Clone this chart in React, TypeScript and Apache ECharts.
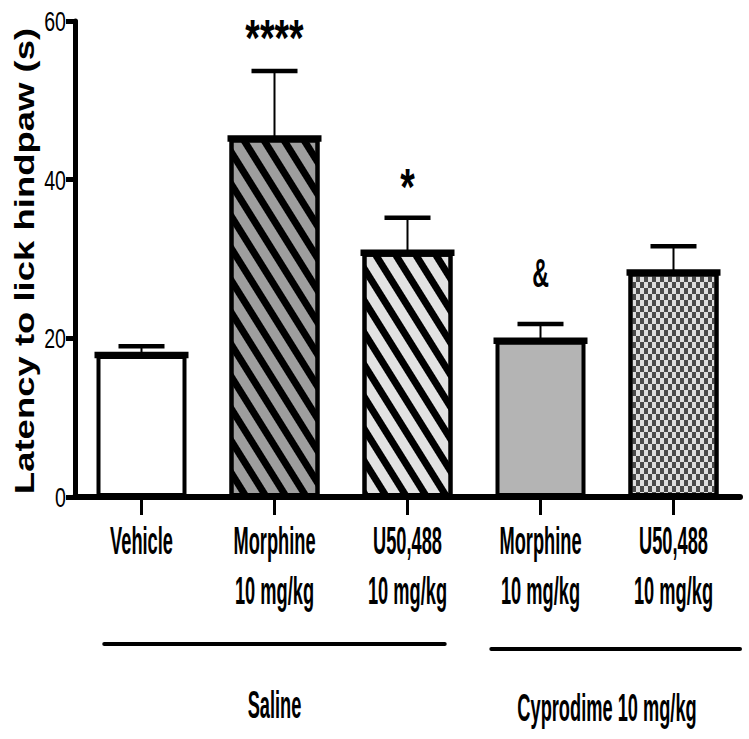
import React, { useEffect, useRef } from "react";
import * as echarts from "echarts";

// ---------- data ----------
const categories = ["Vehicle", "Morphine", "U50,488", "Morphine", "U50,488"];
const doseLabels = ["", "10 mg/kg", "10 mg/kg", "10 mg/kg", "10 mg/kg"];
const means = [17.9, 45.2, 30.8, 19.7, 28.3];
const sems = [1.1, 8.5, 4.4, 2.1, 3.3];
const annotations = ["", "****", "*", "&", ""];
const yTicks = [0, 20, 40, 60];
const groupLabels = ["Saline", "Cyprodime 10 mg/kg"];
const groupFrom = [0, 3];
const groupTo = [2, 4];

// ---------- styles ----------
const FONT = "'Liberation Sans', Arial, Helvetica, sans-serif";
const BAR_WIDTH = 90;
const stripe = (angleDeg: number) => ({
  symbol: "rect",
  symbolSize: 1,
  color: "#000",
  dashArrayX: [1, 0],
  dashArrayY: [7, 10],
  rotation: (angleDeg * Math.PI) / 180,
});
const checker = {
  symbol: "rect",
  symbolSize: 1,
  color: "#4a4a4a",
  dashArrayX: [
    [4, 4],
    [0, 4, 4, 0],
  ],
  dashArrayY: [6, 0],
  rotation: 0,
};
const barStyles: any[] = [
  { color: "#ffffff" },
  { color: "#9e9e9e", decal: stripe(58) },
  { color: "#e2e2e2", decal: stripe(58) },
  { color: "#b4b4b4" },
  { color: "#dedede", decal: checker },
];
const annStyles = [
  { fontSize: 52, scaleX: 0.72, offset: 33 },
  { fontSize: 52, scaleX: 0.72, offset: 33 },
  { fontSize: 52, scaleX: 0.72, offset: 31 },
  { fontSize: 40, scaleX: 0.58, offset: 51 },
  { fontSize: 52, scaleX: 0.72, offset: 33 },
];
const LABEL_SIZE = 38;
const LABEL_SCALE = 0.48;
// group line extents in band fractions relative to first/last category
const groupLineStart = [-0.28, -0.37];
const groupLineEnd = [0.28, 0.5];
const groupLineDy = [147, 152];
const groupLabelDy = [208, 211];

export default function App() {
  const ref = useRef<HTMLDivElement>(null);

  useEffect(() => {
    document.body.style.margin = "0";
    if (!ref.current) return;
    const chart = echarts.init(ref.current, undefined, { renderer: "svg" });

    const option: any = {
      animation: false,
      backgroundColor: "#ffffff",
      grid: { left: 75, right: 9, top: 21, bottom: 242, containLabel: false },
      xAxis: {
        type: "category",
        data: categories,
        boundaryGap: true,
        axisLine: { show: true, lineStyle: { color: "#000", width: 6 } },
        axisTick: {
          show: true,
          alignWithLabel: true,
          length: 18,
          lineStyle: { color: "#000", width: 3 },
        },
        axisLabel: { show: false },
        splitLine: { show: false },
      },
      yAxis: {
        type: "value",
        min: 0,
        max: 60,
        interval: 20,
        axisLine: { show: true, lineStyle: { color: "#000", width: 5 } },
        axisTick: { show: true, length: 9, lineStyle: { color: "#000", width: 5 } },
        axisLabel: { show: false },
        splitLine: { show: false },
      },
      series: [
        {
          type: "bar",
          barWidth: BAR_WIDTH,
          z: 2,
          data: means.map((m, i) => ({
            value: m,
            itemStyle: { ...barStyles[i], borderColor: "#000", borderWidth: 4 },
          })),
        },
        {
          type: "custom",
          z: 5,
          clip: false,
          data: means.map((m, i) => [i, m, sems[i]]),
          renderItem: (params: any, api: any) => {
            const i = api.value(0);
            const m = api.value(1);
            const s = api.value(2);
            const base = api.coord([i, m]);
            const top = api.coord([i, m + s]);
            const half = BAR_WIDTH / 2;
            const children: any[] = [
              {
                type: "line",
                shape: { x1: base[0] - half - 2, y1: base[1], x2: base[0] + half + 2, y2: base[1] },
                style: { stroke: "#000", lineWidth: 6.5 },
              },
              {
                type: "line",
                shape: { x1: base[0], y1: base[1], x2: top[0], y2: top[1] },
                style: { stroke: "#000", lineWidth: 2 },
              },
              {
                type: "line",
                shape: { x1: top[0] - 23, y1: top[1], x2: top[0] + 23, y2: top[1] },
                style: { stroke: "#000", lineWidth: 4.5 },
              },
            ];
            const ann = annotations[params.dataIndex];
            const st = annStyles[params.dataIndex];
            if (ann) {
              children.push({
                type: "text",
                x: top[0],
                y: top[1] - st.offset,
                scaleX: st.scaleX,
                style: {
                  text: ann,
                  fontSize: st.fontSize,
                  fontWeight: "bold",
                  fontFamily: FONT,
                  fill: "#000",
                  align: "center",
                  verticalAlign: "middle",
                },
              });
            }
            return { type: "group", children };
          },
        },
      ],
    };
    chart.setOption(option);

    const catX = (i: number) => chart.convertToPixel({ xAxisIndex: 0 }, i) as number;
    const valY = (v: number) => chart.convertToPixel({ yAxisIndex: 0 }, v) as number;
    const band = catX(1) - catX(0);
    const axisY = valY(0);
    const axisX = catX(0) - band / 2;

    const labelStyle = (text: string) => ({
      text,
      fontSize: LABEL_SIZE,
      fontWeight: "bold",
      fontFamily: FONT,
      fill: "#000",
      align: "center",
      verticalAlign: "middle",
    });

    const graphics: any[] = [];
    categories.forEach((c, i) => {
      graphics.push({ type: "text", x: catX(i), y: axisY + 44, scaleX: LABEL_SCALE, style: labelStyle(c) });
      if (doseLabels[i]) {
        graphics.push({ type: "text", x: catX(i), y: axisY + 94, scaleX: LABEL_SCALE, style: labelStyle(doseLabels[i]) });
      }
    });
    yTicks.forEach((v) => {
      graphics.push({
        type: "text",
        x: axisX - 9,
        y: valY(v),
        scaleX: 0.7,
        style: { text: String(v), fontSize: 28, fontFamily: FONT, fill: "#000", align: "right", verticalAlign: "middle" },
      });
    });
    graphics.push({
      type: "text",
      x: 24,
      y: (valY(0) + valY(60)) / 2 + 2,
      rotation: Math.PI / 2,
      scaleY: 0.78,
      style: {
        text: "Latency to lick hindpaw (s)",
        fontSize: 36.5,
        fontWeight: "bold",
        fontFamily: FONT,
        fill: "#000",
        align: "center",
        verticalAlign: "middle",
      },
    });
    groupLabels.forEach((g, k) => {
      const x1 = catX(groupFrom[k]) + groupLineStart[k] * band;
      const x2 = catX(groupTo[k]) + groupLineEnd[k] * band;
      graphics.push({
        type: "line",
        shape: { x1, y1: axisY + groupLineDy[k], x2, y2: axisY + groupLineDy[k] },
        style: { stroke: "#000", lineWidth: 4, lineCap: "round" },
      });
      graphics.push({
        type: "text",
        x: (catX(groupFrom[k]) + catX(groupTo[k])) / 2,
        y: axisY + groupLabelDy[k],
        scaleX: LABEL_SCALE,
        style: labelStyle(g),
      });
    });
    chart.setOption({ graphic: graphics });

    return () => chart.dispose();
  }, []);

  return <div ref={ref} style={{ width: 749, height: 739 }} />;
}
